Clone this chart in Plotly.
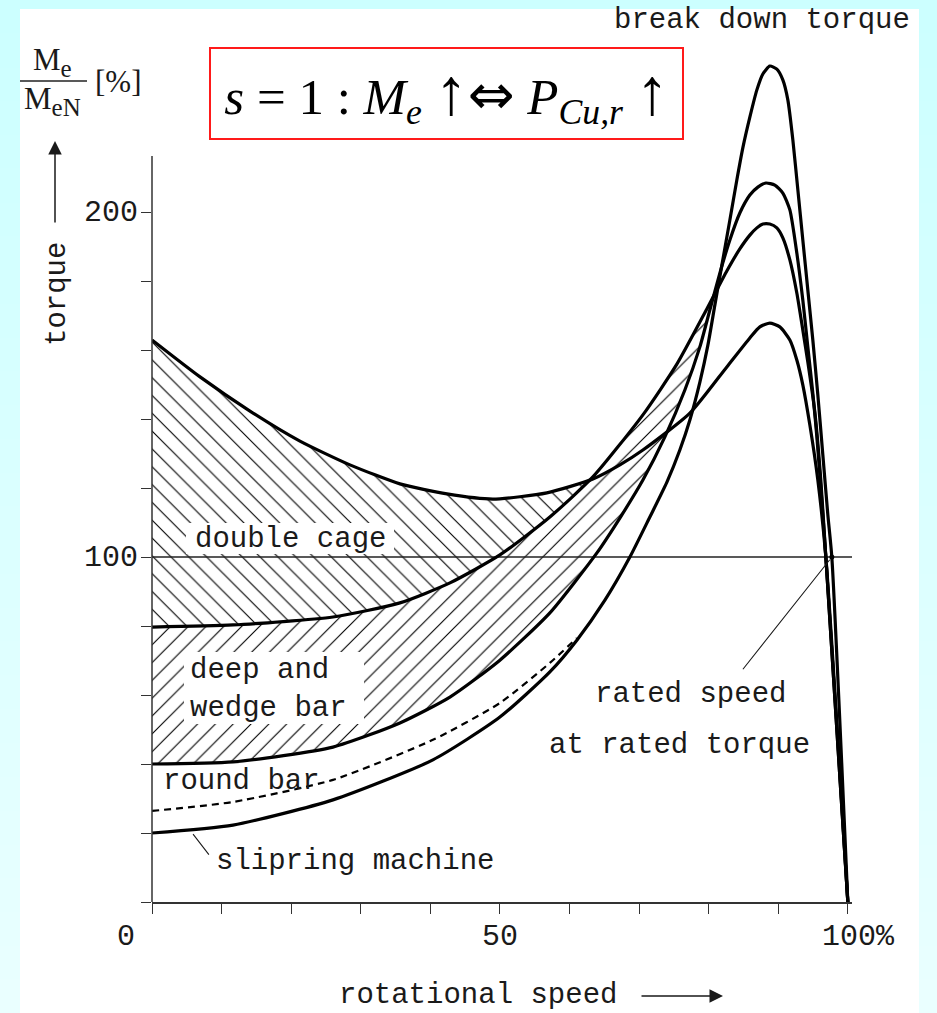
import numpy as np
import plotly.graph_objects as go

# ---------------- data (speed in % of sync. speed, torque in % of rated torque) -------------
dc_speed = [0, 6.90, 14.08, 21.26, 28.45, 35.63, 42.39, 48.99, 56.75, 63.36, 67.24, 70.55, 77.30,
            82.61, 85.92, 87.36, 88.79, 90.23, 91.67, 92.67, 93.53, 94.54, 95.69, 96.84, 100]
dc_torque = [162.9, 152.2, 142.3, 133.6, 126.7, 121.2, 118.3, 116.8, 118.6, 122.6, 126.7, 131.0, 141.7,
             155.1, 163.5, 166.7, 167.8, 166.7, 162.9, 157.1, 149.9, 138.3, 122.3, 100.0, 0]

db_speed = [0, 11.64, 26.01, 35.63, 42.82, 50.0, 57.18, 63.36, 70.55, 75.43, 79.74, 82.61, 84.48,
            85.92, 86.93, 87.79, 88.79, 89.80, 90.66, 91.67, 92.67, 93.53, 94.25, 95.26, 96.12, 96.84, 100]
db_torque = [79.7, 80.3, 82.6, 86.7, 92.5, 100.6, 111.6, 123.2, 141.2, 155.9, 171.9, 182.9, 189.3,
             193.3, 195.4, 196.5, 196.5, 195.4, 192.5, 186.1, 176.5, 165.8, 156.5, 142.0, 122.3, 100.0, 0]

rb_speed = [0, 11.64, 26.01, 35.63, 42.82, 50.0, 57.18, 63.94, 67.24, 70.55, 73.71, 76.58, 78.74,
            80.17, 81.61, 83.05, 84.48, 85.92, 87.07, 88.22, 89.51, 90.66, 91.67, 92.67, 93.53, 94.25,
            94.97, 95.55, 96.26, 96.84, 100]
rb_torque = [40.0, 40.6, 44.9, 51.9, 59.4, 70.1, 83.8, 101.2, 111.3, 122.3, 134.8, 148.4, 160.9,
             171.6, 182.3, 191.9, 199.7, 204.9, 207.2, 208.4, 207.8, 205.5, 200.6, 188.1, 174.5, 160.9,
             147.5, 134.8, 116.5, 100.0, 0]

sr_speed = [0, 11.64, 26.01, 40.37, 50.0, 57.18, 61.06, 65.09, 68.68, 71.55, 74.0, 75.86, 77.30,
            78.74, 79.89, 80.89, 81.90, 83.05, 84.05, 84.91, 85.92, 86.93, 87.79, 88.79, 89.80, 90.66,
            91.38, 92.10, 92.82, 93.53, 94.25, 94.97, 95.69, 96.41, 97.13, 97.70, 100]
sr_torque = [20.0, 22.3, 29.6, 41.2, 53.6, 66.7, 75.9, 87.5, 100.0, 111.6, 121.7, 131.0, 139.7,
             150.7, 161.4, 173.0, 184.6, 197.7, 209.3, 218.6, 227.5, 235.4, 240.0, 242.3, 241.4, 238.3,
             232.5, 220.9, 206.4, 191.9, 177.4, 162.9, 147.0, 129.6, 112.2, 100.0, 0]

ds_speed = [0, 11.64, 26.01, 40.37, 50.0, 57.18, 61.06]
ds_torque = [26.4, 29.0, 35.4, 47.0, 57.7, 69.3, 76.5]

rated_torque = 100
rated_speed = 97.7
x_ticks = [0, 50, 100]
x_tick_text = ["0", "50", "100%"]
y_ticks = [100, 200]
y_tick_text = ["100", "200"]
y_axis_top = 216.2

# ---------------- layout geometry ----------------
FW, FH = 937, 1013
ML, MR, MT, MB = 152, 85, 39, 111
PW, PH = FW - ML - MR, FH - MT - MB
XMAX, YMAX = 100.6, (FH - MT - MB) / 3.45


def pp(px, py):
    return (px - ML) / PW, (FH - MB - py) / PH


def crossing(xa, ya, xb, yb, lo, hi):
    g = np.linspace(lo, hi, 4001)
    d = np.interp(g, xa, ya) - np.interp(g, xb, yb)
    i = np.where(np.sign(d[:-1]) != np.sign(d[1:]))[0][0]
    xc = g[i]
    return xc, float(np.interp(xc, xa, ya))


def band(xu, yu, xl, yl, xc, yc):
    xs = [x for x in xu if x < xc] + [xc] + [x for x in xl if x < xc][::-1]
    ys = [y for x, y in zip(xu, yu) if x < xc] + [yc] + [y for x, y in zip(xl, yl) if x < xc][::-1]
    return xs, ys


fig = go.Figure()

# hatched regions
xc1, yc1 = crossing(dc_speed, dc_torque, db_speed, db_torque, 40, 75)
hx, hy = band(dc_speed, dc_torque, db_speed, db_torque, xc1, yc1)
fig.add_trace(go.Scatter(x=hx, y=hy, mode="lines", fill="toself", line=dict(width=0),
                         fillcolor="rgba(0,0,0,0)",
                         fillpattern=dict(shape="\\", size=12.6, solidity=0.09, fgcolor="black",
                                          bgcolor="rgba(0,0,0,0)", fillmode="replace"),
                         hoverinfo="skip", showlegend=False))
xc2, yc2 = crossing(db_speed, db_torque, rb_speed, rb_torque, 70, 86)
hx, hy = band(db_speed, db_torque, rb_speed, rb_torque, xc2, yc2)
fig.add_trace(go.Scatter(x=hx, y=hy, mode="lines", fill="toself", line=dict(width=0),
                         fillcolor="rgba(0,0,0,0)",
                         fillpattern=dict(shape="/", size=12.6, solidity=0.09, fgcolor="black",
                                          bgcolor="rgba(0,0,0,0)", fillmode="replace"),
                         hoverinfo="skip", showlegend=False))

# rated torque line
fig.add_trace(go.Scatter(x=[0, XMAX], y=[rated_torque, rated_torque], mode="lines",
                         line=dict(color="#222", width=1.3), hoverinfo="skip", showlegend=False))

for xs, ys in [(dc_speed, dc_torque), (db_speed, db_torque), (rb_speed, rb_torque), (sr_speed, sr_torque)]:
    fig.add_trace(go.Scatter(x=xs, y=ys, mode="lines",
                             line=dict(color="black", width=3.2, shape="spline", smoothing=0.6),
                             showlegend=False))
fig.add_trace(go.Scatter(x=ds_speed, y=ds_torque, mode="lines",
                         line=dict(color="black", width=2.2, dash="7px,5px", shape="spline", smoothing=0.6),
                         showlegend=False))
fig.add_trace(go.Scatter(x=[rated_speed], y=[rated_torque], mode="markers",
                         marker=dict(color="black", size=5), showlegend=False))

# ---------------- decoration ----------------
shapes = []
nb = 30
for i in range(nb):
    t = i / (nb - 1)
    r = int(204 + 30 * t)
    col = f"rgb({r},255,255)"
    x0p, y0p = pp(0, FH * i / nb)
    x1p, y1p = pp(FW, FH * (i + 1) / nb + 1)
    shapes.append(dict(type="rect", xref="paper", yref="paper", x0=x0p, x1=x1p, y0=y0p, y1=y1p,
                       fillcolor=col, line=dict(width=0), layer="below"))
x0p, y0p = pp(20, 9)
x1p, y1p = pp(919, FH + 5)
shapes.append(dict(type="rect", xref="paper", yref="paper", x0=x0p, x1=x1p, y0=y0p, y1=y1p,
                   fillcolor="white", line=dict(width=0), layer="below"))
# y axis line (stops at the top of the torque scale)
shapes.append(dict(type="line", xref="paper", yref="paper", x0=0, x1=0, y0=0, y1=y_axis_top / YMAX,
                   line=dict(color="#333", width=1.5)))
# label backgrounds (hide hatch behind labels)
for (a, b, c, d) in [(186, 523, 394, 554), (184, 652, 364, 724)]:
    x0p, y0p = pp(a, b)
    x1p, y1p = pp(c, d)
    shapes.append(dict(type="rect", xref="paper", yref="paper", x0=x0p, x1=x1p, y0=y0p, y1=y1p,
                       fillcolor="white", line=dict(width=0), layer="above"))
# fraction bar
x0p, yb = pp(20, 81)
x1p, _ = pp(87, 81)
shapes.append(dict(type="line", xref="paper", yref="paper", x0=x0p, x1=x1p, y0=yb, y1=yb,
                   line=dict(color="#222", width=1.3)))

ann = []
MONO = "Liberation Mono"
SERIF = "Liberation Serif"


def txt(text, px, py, size=29, family=MONO, xanchor="center", **kw):
    x, y = pp(px, py)
    d = dict(text=text, x=x, y=y, xref="paper", yref="paper", showarrow=False, xanchor=xanchor,
             yanchor="middle", font=dict(family=family, size=size, color="#1a1a1a"))
    d.update(kw)
    ann.append(d)


txt("double cage", 290, 539)
txt("deep and<br>wedge bar", 188, 689, xanchor="left", align="left")
txt("round bar", 161, 781, xanchor="left")
txt("slipring machine", 214, 861, xanchor="left")
txt("rated speed", 690, 694)
txt("at rated torque", 679, 745)
txt("break down torque", 762, 20)
txt("rotational speed", 478, 996)
txt("torque", 57, 294, textangle=-90)
for v, s in zip(x_ticks, x_tick_text):
    px = ML + v * PW / XMAX
    off = {0: -26, 50: 0, 100: 11}[v]
    txt(s, px + off, 937, size=30)
for v, s in zip(y_ticks, y_tick_text):
    py = FH - MB - v * PH / YMAX
    txt(s, 140, py + 1, size=30, xanchor="right")

SUBE = '<sub><span style="font-size:25px">e</span></sub>'
SUBEN = '<sub><span style="font-size:25px">eN</span></sub>'
txt("M" + SUBE, 52, 62, size=31, family=SERIF)
txt("M" + SUBEN, 52, 101, size=31, family=SERIF)
txt("[%]", 118, 82, size=31, family=SERIF)

# formula box
UP = '<span style="font-size:66px">↑</span>'
EQV = '<span style="font-family:DejaVu Sans;font-size:56px">⇔</span>'
x, y = pp(446.5, 93.5)
ann.append(dict(text=f"<i>s</i> = 1 : <i>M</i><sub><i>e</i></sub> {UP}{EQV} <i>P</i><sub><i>Cu,r</i></sub> {UP}",
                x=x, y=y, xref="paper", yref="paper", showarrow=False, xanchor="center", yanchor="middle",
                font=dict(family=SERIF, size=51, color="black"), bordercolor="#ff1a1a", borderwidth=2,
                borderpad=0, bgcolor="white", width=471, height=89))

# arrows / leaders
x, y = pp(55, 141)
ann.append(dict(text="", x=x, y=y, xref="paper", yref="paper", showarrow=True, ax=0, ay=83,
                arrowhead=2, arrowsize=1.8, arrowwidth=1.5, arrowcolor="#1a1a1a"))
x, y = pp(723, 996)
ann.append(dict(text="", x=x, y=y, xref="paper", yref="paper", showarrow=True, ax=-83, ay=0,
                arrowhead=2, arrowsize=1.8, arrowwidth=1.5, arrowcolor="#1a1a1a"))
ann.append(dict(text="", x=rated_speed - 0.3, y=rated_torque - 0.8, xref="x", yref="y", showarrow=True,
                ax=-88, ay=111, arrowhead=0, arrowwidth=1.1, arrowcolor="#1a1a1a"))
ann.append(dict(text="", x=5.9, y=sr_torque[0] - 0.3, xref="x", yref="y", showarrow=True,
                ax=17, ay=22, arrowhead=0, arrowwidth=1.1, arrowcolor="#1a1a1a"))

fig.update_layout(
    width=FW, height=FH, margin=dict(l=ML, r=MR, t=MT, b=MB),
    paper_bgcolor="rgb(204,255,255)", plot_bgcolor="rgba(0,0,0,0)",
    shapes=shapes, annotations=ann, showlegend=False,
    xaxis=dict(range=[0, XMAX], showgrid=False, zeroline=False, showline=True, linecolor="#333",
               linewidth=1.5, ticks="outside", ticklen=10, tickwidth=1.4, tickcolor="#333",
               tick0=0, dtick=10, showticklabels=False, fixedrange=True),
    yaxis=dict(range=[0, YMAX], showgrid=False, zeroline=False, showline=False,
               ticks="outside", ticklen=10, tickwidth=1.4, tickcolor="#333",
               tickmode="array", tickvals=list(range(0, 201, 20)), showticklabels=False, fixedrange=True),
)

fig.write_html("out.html", config={"displayModeBar": False},
               post_script="document.body.style.margin='0';document.body.style.overflow='hidden';")
